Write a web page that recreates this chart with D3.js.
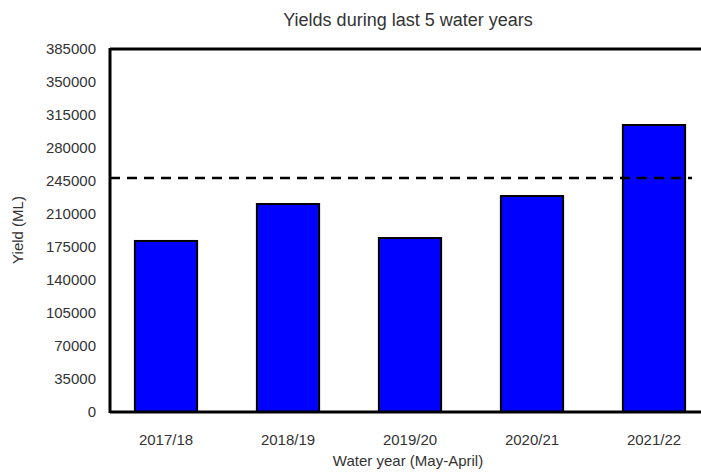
<!DOCTYPE html>
<html>
<head>
<meta charset="utf-8">
<script src="https://cdn.jsdelivr.net/npm/d3@7"></script>
<style>
  body { margin: 0; background: #fff; }
  text { font-family: "Liberation Sans", Arial, sans-serif; fill: #333; }
</style>
</head>
<body>
<div id="chart"></div>
<script>
const years = ['2017/18', '2018/19', '2019/20', '2020/21', '2021/22']
const yields = [181400, 220600, 184500, 229100, 304400]
const average = 248200
const yTicks = d3.range(0, 385001, 35000)

const svg = d3.select('#chart').append('svg')
  .attr('width', 701).attr('height', 472)

const x = d3.scaleBand().domain(years).range([105, 715])
  .paddingInner(0.49).paddingOuter(0.245)
const y = d3.scaleLinear().domain([0, 385000]).range([412, 49])

// bars
svg.selectAll('rect.bar').data(years).enter().append('rect')
  .attr('class', 'bar')
  .attr('x', d => x(d))
  .attr('width', x.bandwidth())
  .attr('y', (d, i) => y(yields[i]))
  .attr('height', (d, i) => y(0) - y(yields[i]))
  .attr('fill', '#0000ff')
  .attr('stroke', '#000')
  .attr('stroke-width', 2)

// average line
svg.append('line')
  .attr('x1', 110).attr('x2', 692)
  .attr('y1', y(average)).attr('y2', y(average))
  .attr('stroke', '#000').attr('stroke-width', 2.5)
  .attr('stroke-dasharray', '10,7')

// frame
svg.append('line').attr('x1', 110).attr('x2', 701).attr('y1', 49).attr('y2', 49)
  .attr('stroke', '#000').attr('stroke-width', 3)
svg.append('line').attr('x1', 110).attr('x2', 701).attr('y1', 412).attr('y2', 412)
  .attr('stroke', '#000').attr('stroke-width', 3)
svg.append('line').attr('x1', 110).attr('x2', 110).attr('y1', 48).attr('y2', 413)
  .attr('stroke', '#000').attr('stroke-width', 3)

// axes
const yAxis = d3.axisLeft(y).tickValues(yTicks).tickSize(0).tickFormat(d3.format('d'))
svg.append('g').attr('transform', 'translate(110,0)').call(yAxis)
  .call(g => g.select('.domain').remove())
  .call(g => g.selectAll('.tick text').attr('x', -14).attr('font-size', 15)
    .style('font-family', '"Liberation Sans", Arial, sans-serif').attr('fill', '#333'))

const xAxis = d3.axisBottom(x).tickSize(0)
svg.append('g').attr('transform', 'translate(0,412)').call(xAxis)
  .call(g => g.select('.domain').remove())
  .call(g => g.selectAll('.tick text').attr('y', 22).attr('font-size', 15)
    .style('font-family', '"Liberation Sans", Arial, sans-serif').attr('fill', '#333'))

// titles
svg.append('text').attr('x', 408).attr('y', 26).attr('text-anchor', 'middle')
  .attr('font-size', 18).text('Yields during last 5 water years')
svg.append('text').attr('x', 408).attr('y', 466).attr('text-anchor', 'middle')
  .attr('font-size', 15).text('Water year (May-April)')
svg.append('text').attr('transform', 'translate(23,230) rotate(-90)')
  .attr('text-anchor', 'middle').attr('font-size', 15).text('Yield (ML)')
</script>
</body>
</html>
